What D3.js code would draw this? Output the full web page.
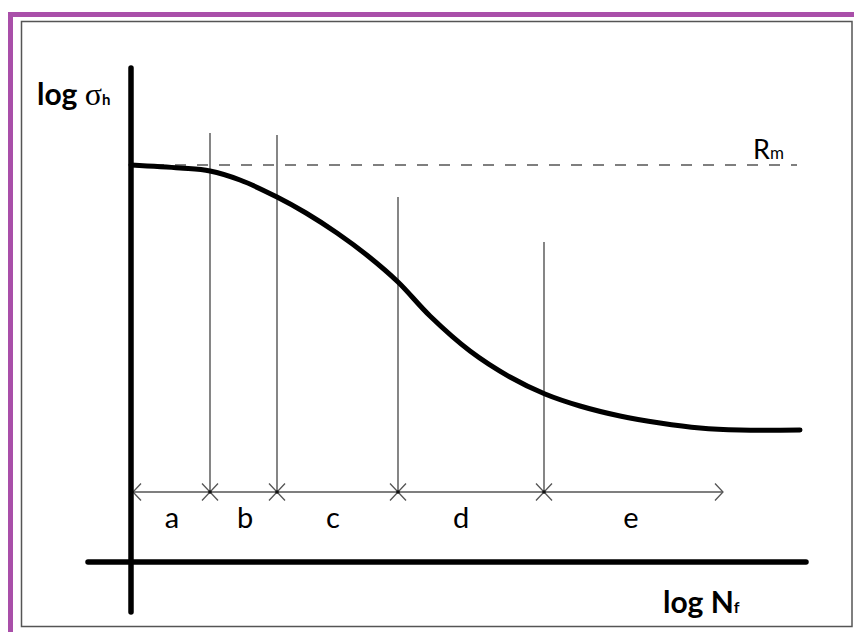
<!DOCTYPE html>
<html>
<head>
<meta charset="utf-8">
<script src="https://cdn.jsdelivr.net/npm/d3@7"></script>
<style>
  body { margin: 0; background: #fff; }
  svg { display: block; }
</style>
</head>
<body>
<div id="container"></div>
<script>
// S-N curve (log sigma vs log N), values in axis units
const curveX = [0, 0.98, 1.58, 2.18, 2.92, 3.5, 4.12, 4.74, 5.34, 5.98, 6.78, 7.58, 8.28, 8.98, 9.78, 10.58, 11.38, 12.18, 13.38];
const curveY = [7.94, 7.88, 7.82, 7.64, 7.30, 6.98, 6.58, 6.12, 5.60, 4.92, 4.22, 3.70, 3.36, 3.12, 2.92, 2.78, 2.68, 2.64, 2.64];

// region boundaries and the height of their vertical lines
const boundaryX = [1.58, 2.92, 5.34, 8.26];
const boundaryTop = [8.58, 8.54, 7.3, 6.4];

const regionLabels = ["a", "b", "c", "d", "e"];
const regionLabelX = [0.82, 2.28, 4.04, 6.6, 10.0];

const rmLevel = 7.94; // tensile strength line
const arrowLevel = 1.4;
const arrowStart = 0.04;
const arrowEnd = 11.84;

const w = 854;
const h = 632;

const svg = d3.select("#container")
  .append("svg")
  .attr("width", w)
  .attr("height", h);

// x: 50px per unit, y: 50px per unit
const xScale = d3.scaleLinear().domain([0, 13.5]).range([131, 806]);
const yScale = d3.scaleLinear().domain([0, 10]).range([562, 62]);

// frame
svg.append("rect")
  .attr("x", 8).attr("y", 12)
  .attr("width", w - 8).attr("height", 5)
  .attr("fill", "#a94fa9");
svg.append("rect")
  .attr("x", 8).attr("y", 12)
  .attr("width", 5).attr("height", h - 12)
  .attr("fill", "#a94fa9");
svg.append("rect")
  .attr("x", 21.5).attr("y", 21.5)
  .attr("width", 830.5).attr("height", 605)
  .attr("fill", "none")
  .attr("stroke", "#555")
  .attr("stroke-width", 1.5);

// arrow heads (open chevrons)
const defs = svg.append("defs");
defs.append("marker")
  .attr("id", "chev")
  .attr("viewBox", "-12 -12 24 24")
  .attr("markerWidth", 24)
  .attr("markerHeight", 24)
  .attr("markerUnits", "userSpaceOnUse")
  .attr("refX", 0).attr("refY", 0)
  .attr("orient", "auto-start-reverse")
  .append("path")
  .attr("d", "M-8,-8.5L0,0L-8,8.5")
  .attr("fill", "none")
  .attr("stroke", "#555")
  .attr("stroke-width", 1.3);

// dashed Rm line
svg.append("line")
  .attr("x1", xScale(0)).attr("x2", xScale(13.32))
  .attr("y1", yScale(rmLevel)).attr("y2", yScale(rmLevel))
  .attr("stroke", "#555")
  .attr("stroke-width", 1.4)
  .attr("stroke-dasharray", "11,11");

// vertical boundary lines
svg.selectAll(".boundary")
  .data(boundaryX)
  .enter()
  .append("line")
  .attr("class", "boundary")
  .attr("x1", d => xScale(d)).attr("x2", d => xScale(d))
  .attr("y1", (d, i) => yScale(boundaryTop[i]))
  .attr("y2", yScale(arrowLevel))
  .attr("stroke", "#444")
  .attr("stroke-width", 1.3);

// double arrows between boundaries
const stops = [arrowStart].concat(boundaryX, [arrowEnd]);
svg.selectAll(".seg")
  .data(d3.pairs(stops))
  .enter()
  .append("line")
  .attr("class", "seg")
  .attr("x1", d => xScale(d[0])).attr("x2", d => xScale(d[1]))
  .attr("y1", yScale(arrowLevel)).attr("y2", yScale(arrowLevel))
  .attr("stroke", "#555")
  .attr("stroke-width", 1.3)
  .attr("marker-start", "url(#chev)")
  .attr("marker-end", "url(#chev)");

svg.selectAll(".dot")
  .data(boundaryX)
  .enter()
  .append("circle")
  .attr("class", "dot")
  .attr("cx", d => xScale(d))
  .attr("cy", yScale(arrowLevel))
  .attr("r", 1.8)
  .attr("fill", "#111");

// region labels
svg.selectAll(".region")
  .data(regionLabels)
  .enter()
  .append("text")
  .attr("class", "region")
  .attr("x", (d, i) => xScale(regionLabelX[i]))
  .attr("y", yScale(0.68))
  .attr("text-anchor", "middle")
  .attr("font-family", "Lato, 'Open Sans', sans-serif")
  .attr("font-size", 29)
  .attr("fill", "#000")
  .text(d => d);

// curve
const line = d3.line()
  .x(d => xScale(d[0]))
  .y(d => yScale(d[1]))
  .curve(d3.curveCatmullRom.alpha(0.5));

svg.append("path")
  .datum(d3.zip(curveX, curveY))
  .attr("d", line)
  .attr("fill", "none")
  .attr("stroke", "#000")
  .attr("stroke-width", 5)
  .attr("stroke-linecap", "round");

// axes
svg.append("line")
  .attr("x1", xScale(0)).attr("x2", xScale(0))
  .attr("y1", yScale(9.88)).attr("y2", yScale(-1.0))
  .attr("stroke", "#000")
  .attr("stroke-width", 5.5)
  .attr("stroke-linecap", "round");
svg.append("line")
  .attr("x1", xScale(-0.86)).attr("x2", xScale(13.5))
  .attr("y1", yScale(0)).attr("y2", yScale(0))
  .attr("stroke", "#000")
  .attr("stroke-width", 5.5)
  .attr("stroke-linecap", "round");

// axis titles
const yTitle = svg.append("text")
  .attr("x", xScale(-1.88))
  .attr("y", yScale(9.14))
  .attr("font-family", "Lato, sans-serif")
  .attr("fill", "#000");
yTitle.append("tspan")
  .attr("font-size", 30).attr("font-weight", "bold")
  .text("log ");
yTitle.append("tspan")
  .attr("font-size", 32)
  .attr("font-family", "'Liberation Serif', serif")
  .text("σ");
yTitle.append("tspan")
  .attr("font-size", 15).attr("font-weight", "bold")
  .text("h");

const xTitle = svg.append("text")
  .attr("x", xScale(10.64))
  .attr("y", yScale(-1.02))
  .attr("font-family", "Lato, sans-serif")
  .attr("font-weight", "bold")
  .attr("fill", "#000");
xTitle.append("tspan").attr("font-size", 30).text("log N");
xTitle.append("tspan").attr("font-size", 16).text("f");

const rm = svg.append("text")
  .attr("x", xScale(12.44))
  .attr("y", yScale(8.06))
  .attr("font-family", "Lato, sans-serif")
  .attr("fill", "#000");
rm.append("tspan").attr("font-size", 27).text("R");
rm.append("tspan").attr("font-size", 17).text("m");
</script>
</body>
</html>
